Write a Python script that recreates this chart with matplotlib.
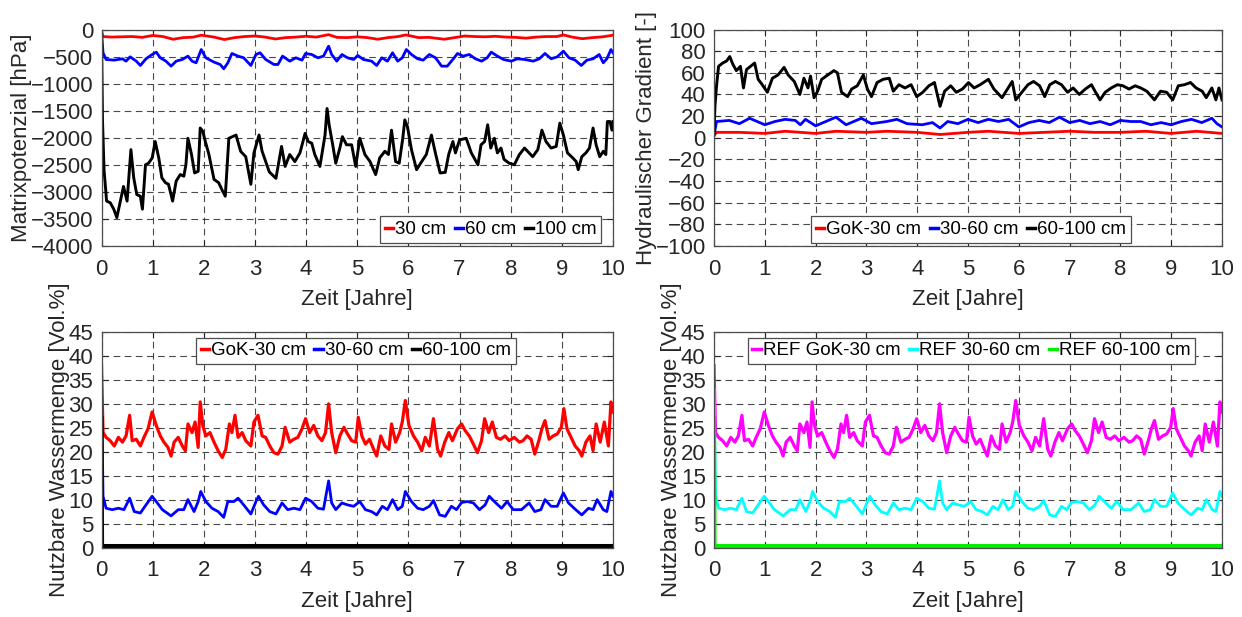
"""
Bodenwasser-Simulation: Matrixpotenzial, hydraulischer Gradient, nutzbare Wassermenge
"""

import matplotlib
matplotlib.use("Agg")
import matplotlib.pyplot as plt

plt.rcParams["font.family"] = ["Liberation Sans", "DejaVu Sans"]

# ---- Daten (Zeit [Jahre], Wert) ----
mp_30cm = [(0, -30), (0.03, -130), (0.2, -140), (0.4, -135), (0.6, -130), (0.8, -145), (1.0, -110),
           (1.2, -130), (1.4, -180), (1.6, -150), (1.8, -140), (1.95, -105), (2.2, -140), (2.4, -185),
           (2.6, -150), (2.8, -130), (3.0, -120), (3.2, -140), (3.4, -175), (3.6, -150), (3.8, -140),
           (4.0, -125), (4.2, -140), (4.44, -95), (4.6, -145), (4.8, -150), (5.0, -135), (5.2, -150),
           (5.4, -180), (5.6, -150), (5.8, -130), (5.95, -100), (6.2, -150), (6.4, -145), (6.7, -180),
           (6.9, -150), (7.1, -120), (7.3, -130), (7.5, -135), (7.7, -125), (7.9, -140), (8.1, -145),
           (8.3, -160), (8.5, -140), (8.7, -130), (8.9, -130), (9.03, -100), (9.2, -140), (9.4, -170),
           (9.6, -150), (9.8, -135), (10.0, -105)]

mp_60cm = [(0, -30), (0.03, -430), (0.09, -554), (0.25, -566), (0.41, -541), (0.48, -585), (0.56, -505),
           (0.68, -585), (0.76, -665), (0.87, -541), (0.99, -462), (1.07, -418), (1.15, -523), (1.26, -585),
           (1.36, -677), (1.46, -585), (1.58, -554), (1.69, -492), (1.77, -585), (1.85, -615), (1.95, -370),
           (2.04, -523), (2.2, -603), (2.32, -646), (2.39, -726), (2.47, -615), (2.55, -443), (2.67, -492),
           (2.78, -523), (2.92, -665), (3.02, -462), (3.10, -430), (3.21, -554), (3.37, -646), (3.45, -646),
           (3.54, -492), (3.68, -585), (3.80, -523), (3.92, -566), (3.99, -443), (4.11, -462), (4.23, -523),
           (4.34, -492), (4.44, -308), (4.50, -462), (4.60, -585), (4.70, -462), (4.81, -523), (4.93, -554),
           (5.01, -480), (5.12, -554), (5.28, -585), (5.38, -665), (5.48, -523), (5.59, -585), (5.69, -430),
           (5.79, -585), (5.88, -523), (5.96, -370), (6.06, -462), (6.18, -541), (6.29, -566), (6.41, -462),
           (6.53, -523), (6.65, -677), (6.76, -677), (6.88, -541), (6.96, -443), (7.07, -492), (7.19, -462),
           (7.31, -541), (7.43, -585), (7.54, -523), (7.62, -418), (7.74, -492), (7.86, -554), (8.01, -585),
           (8.13, -541), (8.28, -554), (8.44, -585), (8.56, -541), (8.67, -443), (8.79, -541), (8.91, -505),
           (9.03, -400), (9.14, -523), (9.26, -566), (9.38, -665), (9.49, -566), (9.61, -541), (9.73, -462),
           (9.81, -615), (9.88, -541), (9.96, -370), (10.0, -430)]

mp_100cm = [(0, -100), (0.02, -1700), (0.05, -2600), (0.1, -3170), (0.17, -3200), (0.24, -3320), (0.30, -3475),
            (0.37, -3170), (0.43, -2900), (0.50, -3170), (0.575, -2220), (0.63, -2740), (0.69, -3050),
            (0.76, -3080), (0.80, -3320), (0.86, -2500), (0.92, -2470), (0.99, -2375), (1.05, -2070),
            (1.12, -2375), (1.18, -2740), (1.25, -2830), (1.31, -2860), (1.39, -3170), (1.46, -2800),
            (1.54, -2680), (1.61, -2710), (1.65, -2500), (1.69, -2010), (1.76, -2310), (1.82, -2650),
            (1.89, -2620), (1.93, -1820), (1.98, -1880), (2.03, -2070), (2.10, -2310), (2.20, -2770),
            (2.29, -2830), (2.37, -2990), (2.42, -3080), (2.49, -2010), (2.56, -1980), (2.63, -1950),
            (2.72, -2250), (2.82, -2350), (2.92, -2860), (2.98, -2280), (3.08, -1950), (3.14, -2250),
            (3.28, -2630), (3.41, -2750), (3.52, -2160), (3.59, -2530), (3.68, -2310), (3.78, -2440),
            (3.88, -2280), (3.98, -1920), (4.04, -2070), (4.11, -2100), (4.17, -2310), (4.27, -2530),
            (4.37, -1950), (4.41, -1460), (4.45, -1760), (4.52, -2130), (4.58, -2470), (4.66, -2190),
            (4.71, -1980), (4.79, -2130), (4.89, -2130), (4.97, -2530), (5.05, -2010), (5.15, -2310),
            (5.25, -2440), (5.36, -2680), (5.44, -2370), (5.54, -2250), (5.61, -2310), (5.67, -1860),
            (5.75, -2440), (5.82, -2470), (5.89, -2010), (5.93, -1670), (5.98, -1790), (6.06, -2220),
            (6.16, -2590), (6.26, -2440), (6.35, -2310), (6.45, -1950), (6.52, -2250), (6.62, -2650),
            (6.72, -2640), (6.79, -2300), (6.87, -2070), (6.92, -2280), (7.00, -2040), (7.13, -2010),
            (7.23, -2280), (7.36, -2500), (7.42, -2130), (7.49, -2070), (7.55, -1760), (7.61, -2190),
            (7.68, -2010), (7.74, -2280), (7.81, -2190), (7.87, -2400), (7.97, -2470), (8.07, -2500),
            (8.17, -2310), (8.27, -2190), (8.33, -2250), (8.43, -2350), (8.53, -2220), (8.61, -1860),
            (8.69, -2070), (8.79, -2190), (8.89, -2160), (8.96, -1730), (9.03, -1950), (9.11, -2280),
            (9.21, -2370), (9.28, -2440), (9.32, -2590), (9.39, -2350), (9.47, -2280), (9.54, -2190),
            (9.61, -1820), (9.67, -2130), (9.74, -2350), (9.81, -2250), (9.86, -2310), (9.89, -1700),
            (9.94, -1700), (9.98, -1860), (10.0, -1700)]

hg_gok_30 = [(0, 2), (0.05, 5), (0.5, 5), (1.0, 4), (1.4, 6), (2.0, 4), (2.4, 6), (3.0, 5), (3.4, 6),
             (4.0, 5), (4.45, 3), (5.0, 5), (5.4, 6), (6.0, 4), (6.5, 5), (7.0, 6), (7.5, 5), (8.0, 5),
             (8.5, 6), (9.0, 4), (9.5, 6), (10.0, 4)]

hg_30_60 = [(0, 2), (0.05, 15), (0.3, 16), (0.5, 13), (0.7, 18), (1.0, 12), (1.2, 15), (1.4, 17), (1.6, 16),
            (1.7, 12), (1.8, 17), (2.0, 11), (2.2, 15), (2.4, 19), (2.6, 12), (2.9, 18), (3.1, 13), (3.4, 15),
            (3.6, 17), (3.8, 13), (4.1, 12), (4.3, 14), (4.45, 9), (4.6, 15), (4.8, 13), (5.0, 17), (5.2, 14),
            (5.4, 17), (5.6, 15), (5.8, 17), (6.0, 10), (6.2, 14), (6.4, 16), (6.6, 14), (6.8, 19), (7.0, 14),
            (7.2, 16), (7.4, 13), (7.6, 15), (7.8, 12), (8.0, 16), (8.2, 15), (8.4, 15), (8.6, 12), (8.8, 14),
            (9.0, 12), (9.2, 15), (9.4, 17), (9.6, 14), (9.8, 18), (9.9, 13), (10.0, 10)]

hg_60_100 = [(0, 5), (0.02, 30), (0.05, 48), (0.09, 66), (0.17, 69), (0.25, 71), (0.31, 75), (0.37, 68),
             (0.44, 62), (0.52, 66), (0.58, 46), (0.64, 63), (0.72, 66), (0.80, 69), (0.87, 54), (0.95, 49),
             (1.05, 42), (1.15, 55), (1.26, 58), (1.38, 65), (1.46, 58), (1.58, 52), (1.69, 40), (1.77, 55),
             (1.85, 46), (1.90, 57), (1.97, 37), (2.04, 43), (2.12, 54), (2.24, 58), (2.36, 62), (2.43, 60),
             (2.51, 42), (2.63, 38), (2.71, 45), (2.82, 48), (2.94, 58), (3.02, 45), (3.10, 38), (3.21, 51),
             (3.33, 54), (3.45, 55), (3.53, 43), (3.64, 49), (3.76, 46), (3.88, 49), (3.99, 38), (4.11, 42),
             (4.23, 48), (4.34, 51), (4.45, 29), (4.54, 43), (4.66, 48), (4.77, 42), (4.89, 45), (5.01, 51),
             (5.12, 46), (5.24, 49), (5.40, 54), (5.51, 45), (5.67, 37), (5.79, 46), (5.87, 52), (5.94, 35),
             (6.06, 42), (6.18, 49), (6.29, 52), (6.41, 48), (6.51, 38), (6.61, 49), (6.72, 52), (6.84, 49),
             (6.96, 42), (7.07, 46), (7.19, 40), (7.31, 45), (7.43, 49), (7.50, 43), (7.60, 35), (7.70, 42),
             (7.82, 46), (7.94, 49), (8.05, 48), (8.17, 45), (8.29, 48), (8.40, 46), (8.52, 43), (8.67, 35),
             (8.79, 43), (8.91, 42), (9.03, 35), (9.14, 48), (9.26, 49), (9.38, 51), (9.49, 46), (9.61, 43),
             (9.69, 37), (9.80, 46), (9.88, 35), (9.94, 46), (10.0, 35)]

nw_gok_30 = [(0, 38), (0.03, 24), (0.09, 23), (0.17, 22.3), (0.25, 21.2), (0.33, 23), (0.41, 22), (0.48, 23.3),
             (0.55, 27.6), (0.60, 22.3), (0.68, 22.6), (0.76, 21.2), (0.83, 23), (0.91, 24.8), (0.99, 28.3),
             (1.07, 25.5), (1.15, 23.3), (1.22, 22), (1.30, 20.9), (1.36, 19.1), (1.42, 22), (1.50, 23),
             (1.58, 21.2), (1.64, 20.2), (1.69, 25.8), (1.77, 24), (1.83, 26.2), (1.89, 20.9), (1.93, 30.4),
             (1.98, 25.5), (2.04, 23.3), (2.12, 24), (2.20, 22), (2.28, 20.2), (2.36, 18.8), (2.43, 20.5),
             (2.50, 25.8), (2.55, 24), (2.61, 27.6), (2.67, 23), (2.75, 24), (2.82, 22.3), (2.92, 21.2),
             (2.98, 26.2), (3.06, 27.6), (3.14, 23.3), (3.21, 23), (3.29, 21.2), (3.37, 19.8), (3.45, 19.5),
             (3.53, 21.2), (3.59, 25.1), (3.68, 22), (3.76, 22.6), (3.84, 23), (3.92, 24.8), (3.99, 26.9),
             (4.07, 24), (4.15, 25.5), (4.23, 23.3), (4.31, 22.3), (4.38, 24), (4.44, 30), (4.50, 24),
             (4.58, 19.8), (4.66, 23.3), (4.74, 25.1), (4.81, 23.7), (4.89, 22.3), (4.97, 22), (5.02, 27.2),
             (5.09, 23.3), (5.16, 21.6), (5.24, 22.6), (5.32, 20.5), (5.38, 19.1), (5.46, 23.3), (5.54, 21.2),
             (5.62, 20.5), (5.67, 25.8), (5.75, 22), (5.83, 24), (5.88, 26.2), (5.94, 30.7), (6.01, 25.5),
             (6.10, 23.3), (6.18, 22), (6.26, 20.2), (6.33, 23), (6.41, 21.2), (6.49, 26.9), (6.57, 20.5),
             (6.63, 19.1), (6.71, 22), (6.79, 24), (6.86, 22.3), (6.96, 24.8), (7.04, 25.8), (7.11, 24.4),
             (7.19, 23.3), (7.27, 21.6), (7.35, 19.8), (7.43, 22.3), (7.49, 26.9), (7.57, 24), (7.64, 26.2),
             (7.72, 23), (7.80, 22.6), (7.89, 23.3), (7.97, 22.3), (8.07, 23), (8.17, 22), (8.24, 22.3),
             (8.32, 23.3), (8.40, 22.6), (8.47, 19.5), (8.55, 22.3), (8.61, 24.8), (8.67, 26.5), (8.75, 22.6),
             (8.83, 23.3), (8.91, 23.7), (8.99, 25.1), (9.04, 29), (9.10, 24.8), (9.18, 23), (9.26, 21.2),
             (9.34, 20.2), (9.39, 19.1), (9.47, 22), (9.55, 23.3), (9.61, 20.2), (9.67, 25.8), (9.75, 22),
             (9.83, 26.2), (9.91, 21.2), (9.96, 30.4), (10.0, 28.3)]

nw_30_60 = [(0, 33), (0.03, 10.7), (0.09, 8.2), (0.21, 7.9), (0.33, 8.2), (0.44, 7.9), (0.55, 10.3), (0.64, 7.5),
            (0.76, 7.2), (0.87, 8.9), (0.99, 10.7), (1.07, 9.6), (1.19, 7.9), (1.36, 6.6), (1.50, 7.9),
            (1.61, 7.9), (1.69, 10), (1.81, 7.5), (1.89, 9.6), (1.94, 11.7), (2.04, 9.6), (2.16, 8.2),
            (2.28, 7.5), (2.39, 6.3), (2.47, 9.6), (2.59, 9.6), (2.67, 10.3), (2.78, 8.9), (2.92, 7.0),
            (3.02, 9.6), (3.07, 10.7), (3.17, 8.9), (3.29, 7.5), (3.41, 7.0), (3.53, 9.3), (3.64, 7.9),
            (3.76, 8.2), (3.88, 7.9), (3.99, 10.3), (4.11, 9.6), (4.23, 8.2), (4.34, 8.0), (4.44, 13.9),
            (4.50, 9.3), (4.58, 7.9), (4.70, 9.3), (4.81, 8.9), (4.93, 8.6), (5.05, 9.6), (5.16, 7.9),
            (5.28, 7.5), (5.38, 6.8), (5.49, 8.6), (5.59, 7.9), (5.69, 10), (5.79, 7.9), (5.88, 8.6),
            (5.94, 11.7), (6.06, 9.6), (6.18, 8.2), (6.29, 7.9), (6.41, 8.6), (6.49, 9.8), (6.61, 6.8),
            (6.72, 6.5), (6.84, 8.6), (6.94, 7.9), (7.04, 9.4), (7.15, 9.6), (7.27, 9.3), (7.39, 7.9),
            (7.50, 8.9), (7.58, 10.7), (7.70, 9.4), (7.82, 8.2), (7.93, 9.6), (8.05, 7.9), (8.21, 7.9),
            (8.36, 9.3), (8.47, 7.5), (8.59, 7.9), (8.67, 10), (8.79, 8.6), (8.91, 8.6), (9.03, 11.4),
            (9.13, 9.3), (9.26, 8.0), (9.39, 6.8), (9.52, 8.2), (9.61, 7.9), (9.69, 10), (9.81, 7.9),
            (9.88, 7.5), (9.96, 11.7), (10.0, 10.7)]

nw_60_100 = [(0, 27), (0.01, 0.3), (10.0, 0.3)]

# Referenzlauf ist identisch mit der Simulation
ref_gok_30 = nw_gok_30
ref_30_60 = nw_30_60
ref_60_100 = nw_60_100

x_ticks = list(range(0, 11))
mp_ticks = list(range(-4000, 1, 500))
hg_ticks = list(range(-100, 101, 20))
nw_ticks = list(range(0, 46, 5))

W, H = 1242, 617


def style_axes(ax, yticks, ylabel):
    """MATLAB-ähnliches Aussehen"""
    ax.set_xlim(0, 10)
    ax.set_ylim(yticks[0], yticks[-1])
    ax.set_xticks(x_ticks)
    ax.set_yticks(yticks)
    ax.grid(True, color="#2a2a2a", linestyle=(0, (6, 4)), linewidth=0.8, alpha=0.85)
    ax.set_axisbelow(True)
    for sp in ax.spines.values():
        sp.set_color("#4d4d4d")
        sp.set_linewidth(0.9)
    ax.tick_params(direction="in", length=4, top=True, right=True, labelsize=16,
                   colors="#262626", width=0.8)
    ax.tick_params(axis="x", pad=9)
    ax.tick_params(axis="y", pad=6)
    ax.set_xlabel("Zeit [Jahre]", fontsize=16, color="#262626", labelpad=7)
    ax.set_ylabel(ylabel, fontsize=16, color="#262626", labelpad=-1)


def draw(ax, series, color, label, lw=2.0):
    t, v = zip(*series)
    ax.plot(t, v, color=color, lw=lw, label=label)


def add_legend(ax, loc, anchor):
    leg = ax.legend(loc=loc, bbox_to_anchor=anchor, ncol=3, fontsize=13.5, frameon=True,
                    fancybox=False, framealpha=1, edgecolor="#4d4d4d", handlelength=0.45,
                    handletextpad=0.1, columnspacing=0.45, borderpad=0.25, borderaxespad=0.0)
    leg.get_frame().set_linewidth(0.9)
    for line in leg.get_lines():
        line.set_linewidth(2.5)
    return leg


def box(left, top, right, bottom):
    return [left / W, 1 - bottom / H, (right - left) / W, (bottom - top) / H]


fig = plt.figure(figsize=(W / 100, H / 100), dpi=100)
ax1 = fig.add_axes(box(101.5, 29.5, 613, 246))
ax2 = fig.add_axes(box(714, 29.5, 1222, 246))
ax3 = fig.add_axes(box(101.5, 332, 613, 547.5))
ax4 = fig.add_axes(box(714, 332, 1222, 547.5))

# Matrixpotenzial
draw(ax1, mp_30cm, "#ff0000", "30 cm")
draw(ax1, mp_60cm, "#0000ff", "60 cm")
draw(ax1, mp_100cm, "#000000", "100 cm", lw=2.1)
style_axes(ax1, mp_ticks, "Matrixpotenzial [hPa]")
add_legend(ax1, "lower right", (0.977, 0.014))

# Hydraulischer Gradient
draw(ax2, hg_gok_30, "#ff0000", "GoK-30 cm")
draw(ax2, hg_30_60, "#0000ff", "30-60 cm")
draw(ax2, hg_60_100, "#000000", "60-100 cm", lw=2.1)
style_axes(ax2, hg_ticks, "Hydraulischer Gradient [-]")
add_legend(ax2, "lower center", (0.506, 0.014))

# Nutzbare Wassermenge
draw(ax3, nw_gok_30, "#ff0000", "GoK-30 cm", lw=2.3)
draw(ax3, nw_30_60, "#0000ff", "30-60 cm")
draw(ax3, nw_60_100, "#000000", "60-100 cm", lw=3)
style_axes(ax3, nw_ticks, "Nutzbare Wassermenge [Vol.%]")
add_legend(ax3, "upper center", (0.497, 0.974))

# Referenz
draw(ax4, ref_gok_30, "#ff00ff", "REF GoK-30 cm", lw=2.3)
draw(ax4, ref_30_60, "#00ffff", "REF 30-60 cm")
draw(ax4, ref_60_100, "#00ee00", "REF 60-100 cm", lw=3)
style_axes(ax4, nw_ticks, "Nutzbare Wassermenge [Vol.%]")
add_legend(ax4, "upper center", (0.507, 0.974))

fig.savefig("out.png", dpi=100)
plt.close(fig)
